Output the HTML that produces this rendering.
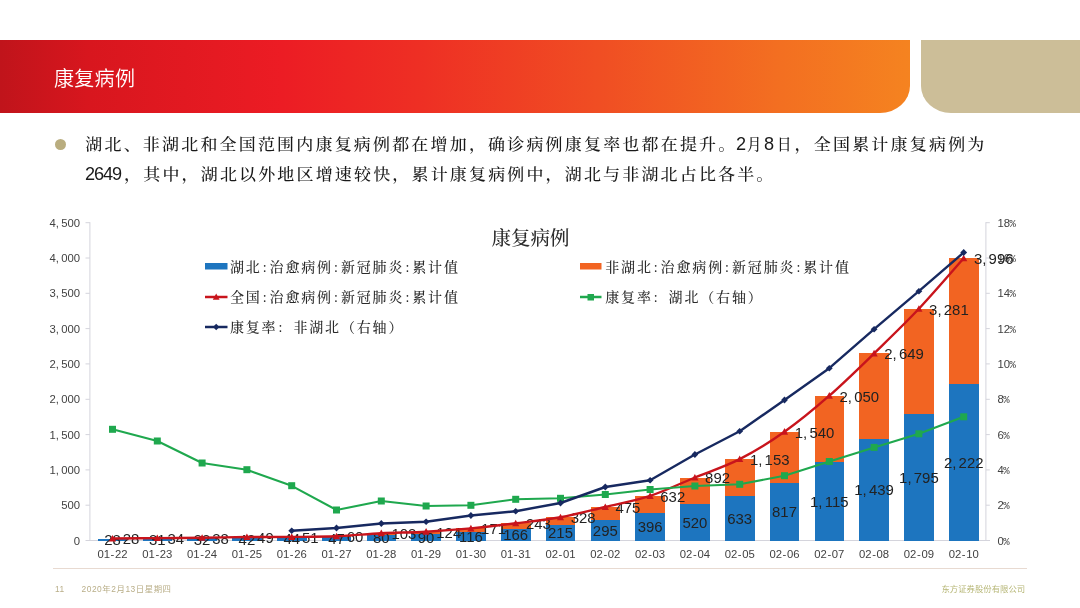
<!DOCTYPE html>
<html lang="zh-CN">
<head>
<meta charset="utf-8">
<title>康复病例</title>
<style>
html,body{margin:0;padding:0;background:#fff;}
body{width:1080px;height:608px;position:relative;overflow:hidden;font-family:"Liberation Sans","Noto Sans CJK SC",sans-serif;}
.banner{position:absolute;left:0;top:40px;width:910px;height:72.5px;border-bottom-right-radius:30px 27px;
 background:linear-gradient(90deg,#c0141b 0px,#d8161e 90px,#ec1c24 280px,#ee2f24 420px,#f04e23 600px,#f36f21 780px,#f58320 910px);}
.tan{position:absolute;left:921px;top:40px;width:159px;height:72.5px;border-bottom-left-radius:30px 27px;background:#ccbe98;}
.title{position:absolute;left:54px;top:64px;margin:0;font-family:"Liberation Sans","Noto Sans CJK SC",sans-serif;font-weight:350;font-size:20px;line-height:30px;color:#fff;letter-spacing:0.3px;}
.bullet{position:absolute;left:55.3px;top:138.6px;width:11px;height:11px;border-radius:50%;background:#b9ad7f;}
.body{position:absolute;margin:0;height:28px;font-family:"Liberation Sans","Noto Serif CJK SC",serif;font-size:17px;line-height:28px;color:#1a1a1a;white-space:nowrap;font-weight:500;transform:scaleY(0.92);transform-origin:0 23.4px;}
.body b{display:inline-block;position:relative;top:-0.45px;font-weight:400;font-family:"Liberation Sans",sans-serif;font-size:19.5px;letter-spacing:-1.2px;transform:scaleX(0.93);transform-origin:0 0;}
.body i{display:inline-block;font-style:normal;font-weight:500;font-family:"Liberation Serif","Noto Serif CJK SC",serif;font-size:17px;letter-spacing:0;transform:scaleX(0.85);transform-origin:0 0;}
.l1{left:85.3px;top:129.3px;}
.l2{left:84.8px;top:158.8px;}
.a{letter-spacing:2.18px;}
.b{display:inline-block;width:58.6px;margin-left:-1.48px;letter-spacing:0;}
.b .b1{width:11.1px;}.b .i1{width:17.2px;}.b .b2{width:13px;}.b .i2{width:17.3px;}
.c{letter-spacing:2.2px;}
.d{width:39.3px;}
.f{letter-spacing:2.16px;}
.chart{position:absolute;left:0;top:0;}
.rule{position:absolute;left:53px;top:567.8px;width:974px;height:1.5px;background:#e8dad1;}
.foot{position:absolute;top:583px;font-size:8.4px;line-height:12px;color:#b9ae88;white-space:nowrap;font-family:"Liberation Sans","Noto Sans CJK SC",sans-serif;}
.pg{left:55px;letter-spacing:0.5px;}
.dt{left:81.5px;letter-spacing:0.55px;}
.co{left:941.5px;color:#b7b777;}
</style>
</head>
<body>
<div class="banner"></div>
<div class="tan"></div>
<h1 class="title">康复病例</h1>
<div class="bullet"></div>
<p class="body l1"><span class="a">湖北、非湖北和全国范围内康复病例都在增加，确诊病例康复率也都在提升。</span><span class="b"><b class="b1">2</b><i class="i1">月</i><b class="b2">8</b><i class="i2">日</i></span><span class="c">，全国累计康复病例为</span></p>
<p class="body l2"><b class="d">2649</b><span class="f">，其中，湖北以外地区增速较快，累计康复病例中，湖北与非湖北占比各半。</span></p>
<svg class="chart" width="1080" height="608" viewBox="0 0 1080 608">
<g stroke="#d4d4dc" stroke-width="1" fill="none">
<line x1="89.9" y1="222.2" x2="89.9" y2="541"/>
<line x1="985.9" y1="222.2" x2="985.9" y2="541"/>
<line x1="86" y1="540.5" x2="990" y2="540.5"/>
<line x1="85.5" y1="540.5" x2="89.9" y2="540.5"/>
<line x1="85.5" y1="505.2" x2="89.9" y2="505.2"/>
<line x1="85.5" y1="469.9" x2="89.9" y2="469.9"/>
<line x1="85.5" y1="434.6" x2="89.9" y2="434.6"/>
<line x1="85.5" y1="399.3" x2="89.9" y2="399.3"/>
<line x1="85.5" y1="363.9" x2="89.9" y2="363.9"/>
<line x1="85.5" y1="328.6" x2="89.9" y2="328.6"/>
<line x1="85.5" y1="293.3" x2="89.9" y2="293.3"/>
<line x1="85.5" y1="258.0" x2="89.9" y2="258.0"/>
<line x1="85.5" y1="222.7" x2="89.9" y2="222.7"/>
<line x1="985.9" y1="540.5" x2="989.8" y2="540.5"/>
<line x1="985.9" y1="505.2" x2="989.8" y2="505.2"/>
<line x1="985.9" y1="469.9" x2="989.8" y2="469.9"/>
<line x1="985.9" y1="434.6" x2="989.8" y2="434.6"/>
<line x1="985.9" y1="399.3" x2="989.8" y2="399.3"/>
<line x1="985.9" y1="363.9" x2="989.8" y2="363.9"/>
<line x1="985.9" y1="328.6" x2="989.8" y2="328.6"/>
<line x1="985.9" y1="293.3" x2="989.8" y2="293.3"/>
<line x1="985.9" y1="258.0" x2="989.8" y2="258.0"/>
<line x1="985.9" y1="222.7" x2="989.8" y2="222.7"/>
</g>
<g font-family="'Liberation Sans', sans-serif" font-size="11.3" fill="#424242">
<text x="80" y="544.5" text-anchor="end">0</text>
<text x="80" y="509.2" text-anchor="end">500</text>
<text x="80" y="473.9" text-anchor="end">1,<tspan dx="2.3">000</tspan></text>
<text x="80" y="438.6" text-anchor="end">1,<tspan dx="2.3">500</tspan></text>
<text x="80" y="403.3" text-anchor="end">2,<tspan dx="2.3">000</tspan></text>
<text x="80" y="367.9" text-anchor="end">2,<tspan dx="2.3">500</tspan></text>
<text x="80" y="332.6" text-anchor="end">3,<tspan dx="2.3">000</tspan></text>
<text x="80" y="297.3" text-anchor="end">3,<tspan dx="2.3">500</tspan></text>
<text x="80" y="262.0" text-anchor="end">4,<tspan dx="2.3">000</tspan></text>
<text x="80" y="226.7" text-anchor="end">4,<tspan dx="2.3">500</tspan></text>
<text x="997.5" y="544.5">0<tspan font-family="'Liberation Mono', monospace" font-size="10.6" dx="-0.5">%</tspan></text>
<text x="997.5" y="509.2">2<tspan font-family="'Liberation Mono', monospace" font-size="10.6" dx="-0.5">%</tspan></text>
<text x="997.5" y="473.9">4<tspan font-family="'Liberation Mono', monospace" font-size="10.6" dx="-0.5">%</tspan></text>
<text x="997.5" y="438.6">6<tspan font-family="'Liberation Mono', monospace" font-size="10.6" dx="-0.5">%</tspan></text>
<text x="997.5" y="403.3">8<tspan font-family="'Liberation Mono', monospace" font-size="10.6" dx="-0.5">%</tspan></text>
<text x="997.5" y="367.9">10<tspan font-family="'Liberation Mono', monospace" font-size="10.6" dx="-0.5">%</tspan></text>
<text x="997.5" y="332.6">12<tspan font-family="'Liberation Mono', monospace" font-size="10.6" dx="-0.5">%</tspan></text>
<text x="997.5" y="297.3">14<tspan font-family="'Liberation Mono', monospace" font-size="10.6" dx="-0.5">%</tspan></text>
<text x="997.5" y="262.0">16<tspan font-family="'Liberation Mono', monospace" font-size="10.6" dx="-0.5">%</tspan></text>
<text x="997.5" y="226.7">18<tspan font-family="'Liberation Mono', monospace" font-size="10.6" dx="-0.5">%</tspan></text>
<text x="112.5" y="558" text-anchor="middle">01<tspan dx="0.6">-</tspan><tspan dx="0.6">22</tspan></text>
<text x="157.3" y="558" text-anchor="middle">01<tspan dx="0.6">-</tspan><tspan dx="0.6">23</tspan></text>
<text x="202.1" y="558" text-anchor="middle">01<tspan dx="0.6">-</tspan><tspan dx="0.6">24</tspan></text>
<text x="246.9" y="558" text-anchor="middle">01<tspan dx="0.6">-</tspan><tspan dx="0.6">25</tspan></text>
<text x="291.7" y="558" text-anchor="middle">01<tspan dx="0.6">-</tspan><tspan dx="0.6">26</tspan></text>
<text x="336.5" y="558" text-anchor="middle">01<tspan dx="0.6">-</tspan><tspan dx="0.6">27</tspan></text>
<text x="381.3" y="558" text-anchor="middle">01<tspan dx="0.6">-</tspan><tspan dx="0.6">28</tspan></text>
<text x="426.1" y="558" text-anchor="middle">01<tspan dx="0.6">-</tspan><tspan dx="0.6">29</tspan></text>
<text x="470.9" y="558" text-anchor="middle">01<tspan dx="0.6">-</tspan><tspan dx="0.6">30</tspan></text>
<text x="515.7" y="558" text-anchor="middle">01<tspan dx="0.6">-</tspan><tspan dx="0.6">31</tspan></text>
<text x="560.5" y="558" text-anchor="middle">02<tspan dx="0.6">-</tspan><tspan dx="0.6">01</tspan></text>
<text x="605.3" y="558" text-anchor="middle">02<tspan dx="0.6">-</tspan><tspan dx="0.6">02</tspan></text>
<text x="650.1" y="558" text-anchor="middle">02<tspan dx="0.6">-</tspan><tspan dx="0.6">03</tspan></text>
<text x="694.9" y="558" text-anchor="middle">02<tspan dx="0.6">-</tspan><tspan dx="0.6">04</tspan></text>
<text x="739.7" y="558" text-anchor="middle">02<tspan dx="0.6">-</tspan><tspan dx="0.6">05</tspan></text>
<text x="784.5" y="558" text-anchor="middle">02<tspan dx="0.6">-</tspan><tspan dx="0.6">06</tspan></text>
<text x="829.3" y="558" text-anchor="middle">02<tspan dx="0.6">-</tspan><tspan dx="0.6">07</tspan></text>
<text x="874.1" y="558" text-anchor="middle">02<tspan dx="0.6">-</tspan><tspan dx="0.6">08</tspan></text>
<text x="918.9" y="558" text-anchor="middle">02<tspan dx="0.6">-</tspan><tspan dx="0.6">09</tspan></text>
<text x="963.7" y="558" text-anchor="middle">02<tspan dx="0.6">-</tspan><tspan dx="0.6">10</tspan></text>
</g>
<g shape-rendering="crispEdges">
<rect x="97.7" y="538.5" width="29.6" height="2.0" fill="#1d75bf"/>
<rect x="142.5" y="538.3" width="29.6" height="2.2" fill="#1d75bf"/>
<rect x="142.5" y="538.1" width="29.6" height="0.2" fill="#f26422"/>
<rect x="187.3" y="538.2" width="29.6" height="2.3" fill="#1d75bf"/>
<rect x="187.3" y="537.8" width="29.6" height="0.4" fill="#f26422"/>
<rect x="232.1" y="537.5" width="29.6" height="3.0" fill="#1d75bf"/>
<rect x="232.1" y="537.0" width="29.6" height="0.5" fill="#f26422"/>
<rect x="276.9" y="537.4" width="29.6" height="3.1" fill="#1d75bf"/>
<rect x="276.9" y="536.9" width="29.6" height="0.5" fill="#f26422"/>
<rect x="321.7" y="537.2" width="29.6" height="3.3" fill="#1d75bf"/>
<rect x="321.7" y="536.3" width="29.6" height="0.9" fill="#f26422"/>
<rect x="366.5" y="534.9" width="29.6" height="5.6" fill="#1d75bf"/>
<rect x="366.5" y="533.2" width="29.6" height="1.6" fill="#f26422"/>
<rect x="411.3" y="534.1" width="29.6" height="6.4" fill="#1d75bf"/>
<rect x="411.3" y="531.7" width="29.6" height="2.4" fill="#f26422"/>
<rect x="456.1" y="532.3" width="29.6" height="8.2" fill="#1d75bf"/>
<rect x="456.1" y="528.4" width="29.6" height="3.9" fill="#f26422"/>
<rect x="500.9" y="528.8" width="29.6" height="11.7" fill="#1d75bf"/>
<rect x="500.9" y="523.3" width="29.6" height="5.4" fill="#f26422"/>
<rect x="545.7" y="525.3" width="29.6" height="15.2" fill="#1d75bf"/>
<rect x="545.7" y="517.3" width="29.6" height="8.0" fill="#f26422"/>
<rect x="590.5" y="519.7" width="29.6" height="20.8" fill="#1d75bf"/>
<rect x="590.5" y="507.0" width="29.6" height="12.7" fill="#f26422"/>
<rect x="635.3" y="512.5" width="29.6" height="28.0" fill="#1d75bf"/>
<rect x="635.3" y="495.9" width="29.6" height="16.7" fill="#f26422"/>
<rect x="680.1" y="503.8" width="29.6" height="36.7" fill="#1d75bf"/>
<rect x="680.1" y="477.5" width="29.6" height="26.3" fill="#f26422"/>
<rect x="724.9" y="495.8" width="29.6" height="44.7" fill="#1d75bf"/>
<rect x="724.9" y="459.1" width="29.6" height="36.7" fill="#f26422"/>
<rect x="769.7" y="482.8" width="29.6" height="57.7" fill="#1d75bf"/>
<rect x="769.7" y="431.7" width="29.6" height="51.1" fill="#f26422"/>
<rect x="814.5" y="461.8" width="29.6" height="78.7" fill="#1d75bf"/>
<rect x="814.5" y="395.7" width="29.6" height="66.0" fill="#f26422"/>
<rect x="859.3" y="438.9" width="29.6" height="101.6" fill="#1d75bf"/>
<rect x="859.3" y="353.4" width="29.6" height="85.5" fill="#f26422"/>
<rect x="904.1" y="413.7" width="29.6" height="126.8" fill="#1d75bf"/>
<rect x="904.1" y="308.8" width="29.6" height="104.9" fill="#f26422"/>
<rect x="948.9" y="383.6" width="29.6" height="156.9" fill="#1d75bf"/>
<rect x="948.9" y="258.3" width="29.6" height="125.3" fill="#f26422"/>
</g>
<g font-family="'Liberation Sans', sans-serif" font-size="15.4" fill="#222">
<text transform="translate(112.5,545.0) scale(0.97,1)" text-anchor="middle">28</text>
<text transform="translate(157.3,544.9) scale(0.97,1)" text-anchor="middle">31</text>
<text transform="translate(202.1,544.9) scale(0.97,1)" text-anchor="middle">32</text>
<text transform="translate(246.9,544.5) scale(0.97,1)" text-anchor="middle">42</text>
<text transform="translate(291.7,544.4) scale(0.97,1)" text-anchor="middle">44</text>
<text transform="translate(336.5,544.3) scale(0.97,1)" text-anchor="middle">47</text>
<text transform="translate(381.3,543.2) scale(0.97,1)" text-anchor="middle">80</text>
<text transform="translate(426.1,542.8) scale(0.97,1)" text-anchor="middle">90</text>
<text transform="translate(470.9,541.9) scale(0.97,1)" text-anchor="middle">116</text>
<text transform="translate(515.7,540.1) scale(0.97,1)" text-anchor="middle">166</text>
<text transform="translate(560.5,538.4) scale(0.97,1)" text-anchor="middle">215</text>
<text transform="translate(605.3,535.6) scale(0.97,1)" text-anchor="middle">295</text>
<text transform="translate(650.1,532.0) scale(0.97,1)" text-anchor="middle">396</text>
<text transform="translate(694.9,527.6) scale(0.97,1)" text-anchor="middle">520</text>
<text transform="translate(739.7,523.6) scale(0.97,1)" text-anchor="middle">633</text>
<text transform="translate(784.5,517.2) scale(0.97,1)" text-anchor="middle">817</text>
<text transform="translate(829.3,506.6) scale(0.97,1)" text-anchor="middle">1,<tspan dx="2.3">115</tspan></text>
<text transform="translate(874.1,495.2) scale(0.97,1)" text-anchor="middle">1,<tspan dx="2.3">439</tspan></text>
<text transform="translate(918.9,482.6) scale(0.97,1)" text-anchor="middle">1,<tspan dx="2.3">795</tspan></text>
<text transform="translate(963.7,467.5) scale(0.97,1)" text-anchor="middle">2,<tspan dx="2.3">222</tspan></text>
<text transform="translate(122.7,544.4) scale(0.97,1)">28</text>
<text transform="translate(167.5,544.0) scale(0.97,1)">34</text>
<text transform="translate(212.3,543.7) scale(0.97,1)">38</text>
<text transform="translate(257.1,542.9) scale(0.97,1)">49</text>
<text transform="translate(301.9,542.8) scale(0.97,1)">51</text>
<text transform="translate(346.7,542.2) scale(0.97,1)">60</text>
<text transform="translate(391.5,539.1) scale(0.97,1)">103</text>
<text transform="translate(436.3,537.6) scale(0.97,1)">124</text>
<text transform="translate(481.1,534.3) scale(0.97,1)">171</text>
<text transform="translate(525.9,529.2) scale(0.97,1)">243</text>
<text transform="translate(570.7,523.2) scale(0.97,1)">328</text>
<text transform="translate(615.5,512.9) scale(0.97,1)">475</text>
<text transform="translate(660.3,501.8) scale(0.97,1)">632</text>
<text transform="translate(705.1,483.4) scale(0.97,1)">892</text>
<text transform="translate(749.9,465.0) scale(0.97,1)">1,<tspan dx="2.3">153</tspan></text>
<text transform="translate(794.7,437.6) scale(0.97,1)">1,<tspan dx="2.3">540</tspan></text>
<text transform="translate(839.5,401.6) scale(0.97,1)">2,<tspan dx="2.3">050</tspan></text>
<text transform="translate(884.3,359.3) scale(0.97,1)">2,<tspan dx="2.3">649</tspan></text>
<text transform="translate(929.1,314.7) scale(0.97,1)">3,<tspan dx="2.3">281</tspan></text>
<text transform="translate(973.9,264.2) scale(0.97,1)">3,<tspan dx="2.3">996</tspan></text>
</g>
<path d="M112.5,538.5 C120.0,538.5 142.4,538.2 157.3,538.1 C172.2,538.0 187.2,538.0 202.1,537.8 C217.0,537.6 232.0,537.2 246.9,537.0 C261.8,536.9 276.8,537.0 291.7,536.9 C306.6,536.8 321.6,536.9 336.5,536.3 C351.4,535.7 366.4,534.0 381.3,533.2 C396.2,532.5 411.2,532.5 426.1,531.7 C441.0,530.9 456.0,529.8 470.9,528.4 C485.8,527.0 500.8,525.2 515.7,523.3 C530.6,521.5 545.6,520.1 560.5,517.3 C575.4,514.6 590.4,510.5 605.3,507.0 C620.2,503.4 635.2,500.8 650.1,495.9 C665.0,491.0 680.0,483.6 694.9,477.5 C709.8,471.4 724.8,466.7 739.7,459.1 C754.6,451.4 769.6,442.3 784.5,431.7 C799.4,421.2 814.4,408.8 829.3,395.7 C844.2,382.7 859.2,367.9 874.1,353.4 C889.0,338.9 904.0,324.6 918.9,308.8 C933.8,292.9 956.2,266.7 963.7,258.3" fill="none" stroke="#c8141c" stroke-width="2.4" stroke-linejoin="round"/>
<path d="M112.5,534.9 L116.1,541.5 L108.9,541.5 Z" fill="#c8141c"/>
<path d="M157.3,534.5 L160.9,541.1 L153.7,541.1 Z" fill="#c8141c"/>
<path d="M202.1,534.2 L205.7,540.8 L198.5,540.8 Z" fill="#c8141c"/>
<path d="M246.9,533.4 L250.5,540.0 L243.3,540.0 Z" fill="#c8141c"/>
<path d="M291.7,533.3 L295.3,539.9 L288.1,539.9 Z" fill="#c8141c"/>
<path d="M336.5,532.7 L340.1,539.3 L332.9,539.3 Z" fill="#c8141c"/>
<path d="M381.3,529.6 L384.9,536.2 L377.7,536.2 Z" fill="#c8141c"/>
<path d="M426.1,528.1 L429.7,534.7 L422.5,534.7 Z" fill="#c8141c"/>
<path d="M470.9,524.8 L474.5,531.4 L467.3,531.4 Z" fill="#c8141c"/>
<path d="M515.7,519.7 L519.3,526.3 L512.1,526.3 Z" fill="#c8141c"/>
<path d="M560.5,513.7 L564.1,520.3 L556.9,520.3 Z" fill="#c8141c"/>
<path d="M605.3,503.4 L608.9,510.0 L601.7,510.0 Z" fill="#c8141c"/>
<path d="M650.1,492.3 L653.7,498.9 L646.5,498.9 Z" fill="#c8141c"/>
<path d="M694.9,473.9 L698.5,480.5 L691.3,480.5 Z" fill="#c8141c"/>
<path d="M739.7,455.5 L743.3,462.1 L736.1,462.1 Z" fill="#c8141c"/>
<path d="M784.5,428.1 L788.1,434.7 L780.9,434.7 Z" fill="#c8141c"/>
<path d="M829.3,392.1 L832.9,398.7 L825.7,398.7 Z" fill="#c8141c"/>
<path d="M874.1,349.8 L877.7,356.4 L870.5,356.4 Z" fill="#c8141c"/>
<path d="M918.9,305.2 L922.5,311.8 L915.3,311.8 Z" fill="#c8141c"/>
<path d="M963.7,254.7 L967.3,261.3 L960.1,261.3 Z" fill="#c8141c"/>
<polyline points="112.5,429.2 157.3,441.0 202.1,463.0 246.9,469.8 291.7,485.8 336.5,510.0 381.3,501.0 426.1,506.0 470.9,505.2 515.7,499.2 560.5,498.2 605.3,494.5 650.1,489.5 694.9,486.0 739.7,484.2 784.5,475.7 829.3,461.5 874.1,447.4 918.9,433.8 963.7,416.8" fill="none" stroke="#1fa84e" stroke-width="2.1" stroke-linejoin="round"/>
<rect x="109.0" y="425.8" width="7" height="7" fill="#1fa84e"/>
<rect x="153.8" y="437.5" width="7" height="7" fill="#1fa84e"/>
<rect x="198.6" y="459.5" width="7" height="7" fill="#1fa84e"/>
<rect x="243.4" y="466.2" width="7" height="7" fill="#1fa84e"/>
<rect x="288.2" y="482.2" width="7" height="7" fill="#1fa84e"/>
<rect x="333.0" y="506.5" width="7" height="7" fill="#1fa84e"/>
<rect x="377.8" y="497.5" width="7" height="7" fill="#1fa84e"/>
<rect x="422.6" y="502.5" width="7" height="7" fill="#1fa84e"/>
<rect x="467.4" y="501.8" width="7" height="7" fill="#1fa84e"/>
<rect x="512.2" y="495.8" width="7" height="7" fill="#1fa84e"/>
<rect x="557.0" y="494.8" width="7" height="7" fill="#1fa84e"/>
<rect x="601.8" y="491.0" width="7" height="7" fill="#1fa84e"/>
<rect x="646.6" y="486.0" width="7" height="7" fill="#1fa84e"/>
<rect x="691.4" y="482.5" width="7" height="7" fill="#1fa84e"/>
<rect x="736.2" y="480.8" width="7" height="7" fill="#1fa84e"/>
<rect x="781.0" y="472.2" width="7" height="7" fill="#1fa84e"/>
<rect x="825.8" y="458.0" width="7" height="7" fill="#1fa84e"/>
<rect x="870.6" y="443.9" width="7" height="7" fill="#1fa84e"/>
<rect x="915.4" y="430.3" width="7" height="7" fill="#1fa84e"/>
<rect x="960.2" y="413.3" width="7" height="7" fill="#1fa84e"/>
<polyline points="291.7,530.8 336.5,528.0 381.3,523.5 426.1,521.8 470.9,515.5 515.7,511.2 560.5,503.0 605.3,487.0 650.1,480.2 694.9,454.5 739.7,431.2 784.5,400.0 829.3,368.2 874.1,329.2 918.9,291.2 963.7,252.5" fill="none" stroke="#172960" stroke-width="2.4" stroke-linejoin="round"/>
<path d="M291.7,527.4 L295.1,530.8 L291.7,534.1 L288.3,530.8 Z" fill="#172960"/>
<path d="M336.5,524.6 L339.9,528.0 L336.5,531.4 L333.1,528.0 Z" fill="#172960"/>
<path d="M381.3,520.1 L384.7,523.5 L381.3,526.9 L377.9,523.5 Z" fill="#172960"/>
<path d="M426.1,518.4 L429.5,521.8 L426.1,525.1 L422.7,521.8 Z" fill="#172960"/>
<path d="M470.9,512.1 L474.3,515.5 L470.9,518.9 L467.5,515.5 Z" fill="#172960"/>
<path d="M515.7,507.9 L519.1,511.2 L515.7,514.6 L512.3,511.2 Z" fill="#172960"/>
<path d="M560.5,499.6 L563.9,503.0 L560.5,506.4 L557.1,503.0 Z" fill="#172960"/>
<path d="M605.3,483.6 L608.7,487.0 L605.3,490.4 L601.9,487.0 Z" fill="#172960"/>
<path d="M650.1,476.9 L653.5,480.2 L650.1,483.6 L646.7,480.2 Z" fill="#172960"/>
<path d="M694.9,451.1 L698.3,454.5 L694.9,457.9 L691.5,454.5 Z" fill="#172960"/>
<path d="M739.7,427.9 L743.1,431.2 L739.7,434.6 L736.3,431.2 Z" fill="#172960"/>
<path d="M784.5,396.6 L787.9,400.0 L784.5,403.4 L781.1,400.0 Z" fill="#172960"/>
<path d="M829.3,364.9 L832.7,368.2 L829.3,371.6 L825.9,368.2 Z" fill="#172960"/>
<path d="M874.1,325.9 L877.5,329.2 L874.1,332.6 L870.7,329.2 Z" fill="#172960"/>
<path d="M918.9,287.9 L922.3,291.2 L918.9,294.6 L915.5,291.2 Z" fill="#172960"/>
<path d="M963.7,249.1 L967.1,252.5 L963.7,255.9 L960.3,252.5 Z" fill="#172960"/>
<text x="530.5" y="244.5" text-anchor="middle" font-family="'Liberation Serif', 'Noto Serif CJK SC', serif" font-size="19.5" font-weight="500" fill="#2a2a2a" letter-spacing="0">康复病例</text>
<g font-family="'Liberation Serif', 'Noto Serif CJK SC', serif" font-size="14" font-weight="500" fill="#2a2a2a">
<rect x="205" y="263" width="22.5" height="6.5" fill="#1d75bf"/>
<text x="229.9 245.8 262.7 269.6 285.4 301.3 317.1 334.0 340.9 356.8 372.6 388.5 405.4 412.2 428.1 443.9" y="271.8">湖北:治愈病例:新冠肺炎:累计值</text>
<rect x="580" y="263" width="21.5" height="6.5" fill="#f26422"/>
<text x="605.2 621.0 636.9 653.8 660.6 676.5 692.3 708.2 725.1 732.0 747.8 763.7 779.5 796.4 803.3 819.1 835.0" y="271.8">非湖北:治愈病例:新冠肺炎:累计值</text>
<line x1="205" y1="297" x2="227.5" y2="297" stroke="#c8141c" stroke-width="2.5"/>
<path d="M216.2,293.6 L219.6,299.8 L212.8,299.8 Z" fill="#c8141c"/>
<text x="229.9 245.8 262.7 269.6 285.4 301.3 317.1 334.0 340.9 356.8 372.6 388.5 405.4 412.2 428.1 443.9" y="301.9">全国:治愈病例:新冠肺炎:累计值</text>
<line x1="580" y1="297" x2="601.5" y2="297" stroke="#1fa84e" stroke-width="2.5"/>
<rect x="587.5" y="294" width="6.5" height="6.5" fill="#1fa84e"/>
<text x="605.2 621.0 636.9 653.8 659.7 668.6 684.4 700.3 716.1 732.0 747.8" y="301.9">康复率: 湖北（右轴）</text>
<line x1="205" y1="327" x2="227.5" y2="327" stroke="#172960" stroke-width="2.5"/>
<path d="M216.2,323.8 L219.4,327 L216.2,330.2 L213,327 Z" fill="#172960"/>
<text x="229.9 245.8 261.6 278.6 284.5 293.4 309.2 325.1 340.9 356.8 372.6 388.5" y="331.8">康复率: 非湖北（右轴）</text>
</g>
</svg>
<div class="rule"></div>
<div class="foot pg">11</div>
<div class="foot dt">2020年2月13日星期四</div>
<div class="foot co">东方证券股份有限公司</div>
</body>
</html>
